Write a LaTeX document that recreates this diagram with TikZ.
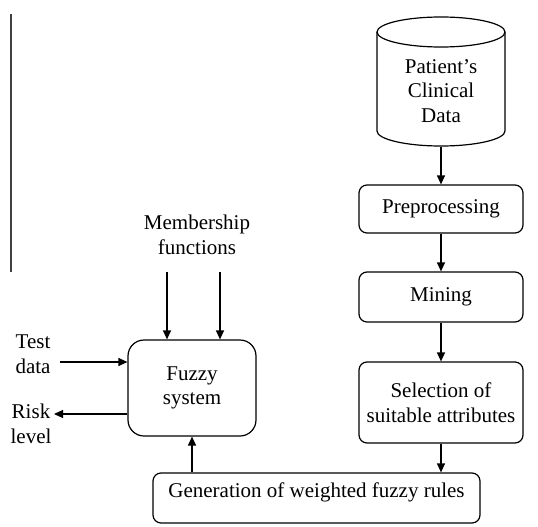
\documentclass[tikz,border=0pt]{standalone}
\usepackage{fontspec}
\setmainfont{Liberation Serif}
\usetikzlibrary{arrows.meta}

\begin{document}
\begin{tikzpicture}[x=1pt, y=-1pt, >={Triangle[length=9pt,width=8pt]}, line width=1.2pt,
    font=\fontsize{21}{24.5}\selectfont,
    block/.style={draw, rounded corners=8pt, align=center, minimum width=164pt, minimum height=48pt, inner sep=0pt},
    store/.style={minimum width=128pt, minimum height=129pt, inner sep=0pt},
    plain/.style={align=center, inner sep=0pt}]
    \useasboundingbox (0,0) rectangle (538,527);
    % data side
    \node[store](data) at (441,81.5) {};
    \draw (377,32) -- (377,131) arc[start angle=180, end angle=0, x radius=64, y radius=15] -- (505,32);
    \draw (441,32) ellipse[x radius=64, y radius=15];
    \node[plain](datatxt) at (441,91) {Patient’s\\Clinical\\Data};
    \node[block](pre) at (441,209) {Preprocessing};
    \node[block, minimum height=50pt](mine) at (441,297) {Mining};
    \node[block, minimum height=81pt](select) at (441,402.5) {Selection of\\suitable attributes};
    \node[block, minimum width=327pt, minimum height=50pt, text depth=16pt](gen) at (316.5,498) {Generation of weighted fuzzy rules};
    % fuzzy side
    \node[block, rounded corners=16pt, minimum width=128pt, minimum height=96pt](fuzzy) at (192,388) {Fuzzy\\system};
    \node[plain](member) at (197,235) {Membership\\functions};
    \node[plain](test) at (33,354) {Test\\data};
    \node[plain](risk) at (31,424) {Risk\\level};
    \coordinate (m1) at (167,272);
    \coordinate (m2) at (220,272);
    \coordinate (tin) at (60,362);
    \coordinate (rout) at (54,414);
    % margin line
    \draw[line width=1.5pt, black!75] (11,14) -- (11,272);
    % Transitions
    \path
        (data) edge [->] (pre)
        (pre) edge [->] (mine)
        (mine) edge [->] (select)
        (select) edge [->] (select.south |- gen.north)
        (gen.north -| fuzzy) edge [->] (fuzzy)
        (m1) edge [->] (m1 |- fuzzy.north)
        (m2) edge [->] (m2 |- fuzzy.north)
        (tin) edge [->] (tin -| fuzzy.west)
        (rout -| fuzzy.west) edge [->] (rout)
        ;
\end{tikzpicture}
\end{document}
